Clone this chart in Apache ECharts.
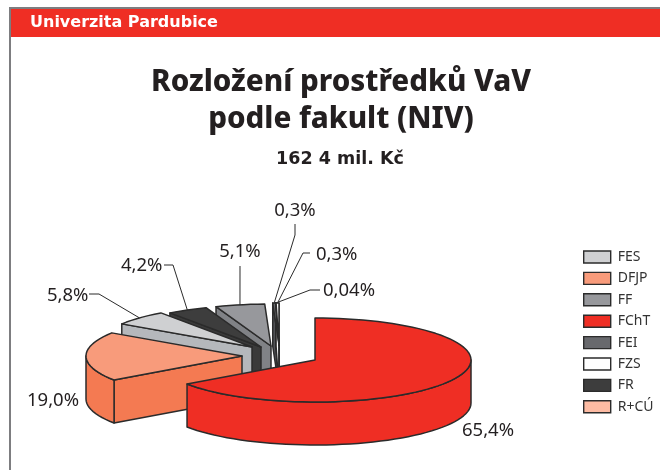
<!DOCTYPE html>
<html>
<head>
<meta charset="utf-8">
<style>html,body{margin:0;padding:0;background:#fff}#c{width:660px;height:470px}</style>
<script src="https://cdn.jsdelivr.net/npm/echarts@6/dist/echarts.min.js"></script>
</head>
<body>
<div id="c"></div>
<script>
// ---- data ----
var categories = ['FES', 'DFJP', 'FF', 'FChT', 'FEI', 'FZS', 'FR', 'R+CÚ'];
var shares = [5.8, 19.0, 5.1, 65.4, 0.3, 0.3, 4.2, 0.04];
var shareLabels = ['5,8%', '19,0%', '5,1%', '65,4%', '0,3%', '0,3%', '4,2%', '0,04%'];
var sliceOrder = ['FChT', 'DFJP', 'FES', 'FR', 'FF', 'FEI', 'R+CÚ', 'FZS'];

// ---- styles / layout ----
var topColors = { 'FES': '#cfd0d2', 'DFJP': '#f89b7b', 'FF': '#97989c', 'FChT': '#ef2e24', 'FEI': '#68696d', 'FZS': '#ffffff', 'FR': '#3d3d3d', 'R+CÚ': '#fdbba3' };
var wallColors = { 'FES': '#b5b8bc', 'DFJP': '#f47a52', 'FF': '#808286', 'FChT': '#ef2e24', 'FEI': '#55565a', 'FZS': '#ffffff', 'FR': '#3a3a3a', 'R+CÚ': '#f47a52' };
var sliceCentres = { 'FChT': [315, 360], 'DFJP': [242, 356], 'FES': [252, 347], 'FR': [261, 347], 'FF': [271, 346], 'FEI': [279, 345], 'R+CÚ': [279, 345], 'FZS': [279, 345] };
var radiusX = 156, radiusY = 42, depth = 43;
var INK = '#2b2b2b';
var labelFont = '"Noto Sans", sans-serif';
// text anchor [x, y, align], optional leader elbow points
var labelPlaces = {
  'FChT': { at: [462, 431, 'left'] },
  'DFJP': { at: [27, 401, 'left'] },
  'FES': { at: [47, 296, 'left'], elbow: [[89, 294], [99, 294]] },
  'FR': { at: [121, 266, 'left'], elbow: [[164, 265], [173, 265]] },
  'FF': { at: [240, 252, 'center'], elbow: [[240, 266]] },
  'FEI': { at: [295, 211, 'center'], elbow: [[295, 224], [295, 235]] },
  'FZS': { at: [316, 255, 'left'], elbow: [[310, 253], [303, 253]] },
  'R+CÚ': { at: [323, 291, 'left'], elbow: [[320, 290], [310, 290]] }
};

var total = shares.reduce(function (a, b) { return a + b; }, 0);
var angles = {};
(function () {
  var a = 0;
  sliceOrder.forEach(function (name) {
    var v = shares[categories.indexOf(name)];
    var sweep = v / total * 360;
    angles[name] = [a, a + sweep];
    a += sweep;
  });
})();

function rad(d) { return d * Math.PI / 180; }
function rimPoint(c, a, dy) {
  return [c[0] + radiusX * Math.sin(rad(a)), c[1] - radiusY * Math.cos(rad(a)) + (dy || 0)];
}
function arc(c, a0, a1, dy) {
  var pts = [], n = Math.max(1, Math.ceil((a1 - a0) / 3));
  for (var i = 0; i <= n; i++) pts.push(rimPoint(c, a0 + (a1 - a0) * i / n, dy));
  return pts;
}
function poly(points, fill, z) {
  return { type: 'polygon', z2: z, shape: { points: points },
    style: { fill: fill, stroke: INK, lineWidth: 1.5, lineJoin: 'round' } };
}
function renderSlice(name) {
  return function (params, api) {
    var value = api.value(0);
    var c = sliceCentres[name];
    var a0 = angles[name][0], a1 = angles[name][1];
    var top = topColors[name], wall = wallColors[name];
    var kids = [];
    var s = Math.sin(rad(a0)), e = Math.sin(rad(a1));
    // radial walls facing the viewer
    if (s < 0) {
      kids.push(poly([c, rimPoint(c, a0), rimPoint(c, a0, depth), [c[0], c[1] + depth]], wall, 1));
    }
    if (e > 0) {
      kids.push(poly([c, rimPoint(c, a1), rimPoint(c, a1, depth), [c[0], c[1] + depth]], wall, 1));
    }
    // the curved outer wall in front of the pie
    var w0 = Math.max(a0, 90), w1 = Math.min(a1, 270);
    if (w1 > w0) {
      kids.push(poly(arc(c, w0, w1, 0).concat(arc(c, w0, w1, depth).reverse()), wall, 2));
    }
    // top face
    kids.push(poly([c].concat(arc(c, a0, a1, 0)), top, 3));
    // label and leader
    var place = labelPlaces[name];
    var idx = categories.indexOf(name);
    if (place.elbow) {
      var mid = (a0 + a1) / 2;
      var anchor = rimPoint(c, mid);
      kids.push({ type: 'polyline', z2: 4, shape: { points: place.elbow.concat([anchor]) },
        style: { fill: null, stroke: INK, lineWidth: 1 } });
    }
    kids.push({ type: 'text', z2: 5, x: place.at[0], y: place.at[1],
      style: { text: shareLabels[idx], fill: '#231f20', font: '18.5px ' + labelFont, align: place.at[2], verticalAlign: 'middle' } });
    return { type: 'group', children: kids };
  };
}

// painted back to front
var paintOrder = ['FEI', 'R+CÚ', 'FZS', 'FF', 'FR', 'FES', 'DFJP', 'FChT'];
var series = paintOrder.map(function (name) {
  return {
    type: 'custom', name: name, coordinateSystem: 'none', silent: true,
    itemStyle: { color: topColors[name] },
    renderItem: renderSlice(name),
    data: [[shares[categories.indexOf(name)]]]
  };
});

var chart = echarts.init(document.getElementById('c'), null, { renderer: 'canvas' });
chart.setOption({
  animation: false,
  backgroundColor: '#ffffff',
  title: [
    { text: 'Univerzita Pardubice', left: 30, top: 15, padding: 0,
      textStyle: { color: '#ffffff', fontFamily: '"DejaVu Sans", sans-serif', fontWeight: 'bold', fontSize: 16 } },
    { text: 'Rozložení prostředků VaV\npodle fakult (NIV)', left: 341, top: 64, padding: 0, textAlign: 'center',
      textStyle: { color: '#231f20', fontFamily: labelFont, fontWeight: 800, fontSize: 29.5, lineHeight: 37 } },
    { text: '162 4 mil. Kč', left: 340, top: 150, padding: 0, textAlign: 'center',
      textStyle: { color: '#231f20', fontFamily: '"DejaVu Sans", sans-serif', fontWeight: 'bold', fontSize: 17.5 } }
  ],
  legend: {
    data: categories, orient: 'vertical', left: 578, top: 245,
    itemWidth: 27, itemHeight: 12, itemGap: 7.4, icon: 'rect', selectedMode: false,
    itemStyle: { borderColor: INK, borderWidth: 1.4 },
    textStyle: { color: '#333333', fontFamily: labelFont, fontSize: 14, padding: [0, 0, 0, 2] }
  },
  graphic: [
    { type: 'rect', silent: true, z: -1, shape: { x: 9, y: 7, width: 651, height: 463 }, style: { fill: '#7d7d80' } },
    { type: 'rect', silent: true, z: -1, shape: { x: 11, y: 9, width: 649, height: 461 }, style: { fill: '#ffffff' } },
    { type: 'rect', silent: true, z: -1, shape: { x: 11, y: 9, width: 649, height: 28 }, style: { fill: '#ef2e24' } }
  ],
  series: series
});
</script>
</body>
</html>
